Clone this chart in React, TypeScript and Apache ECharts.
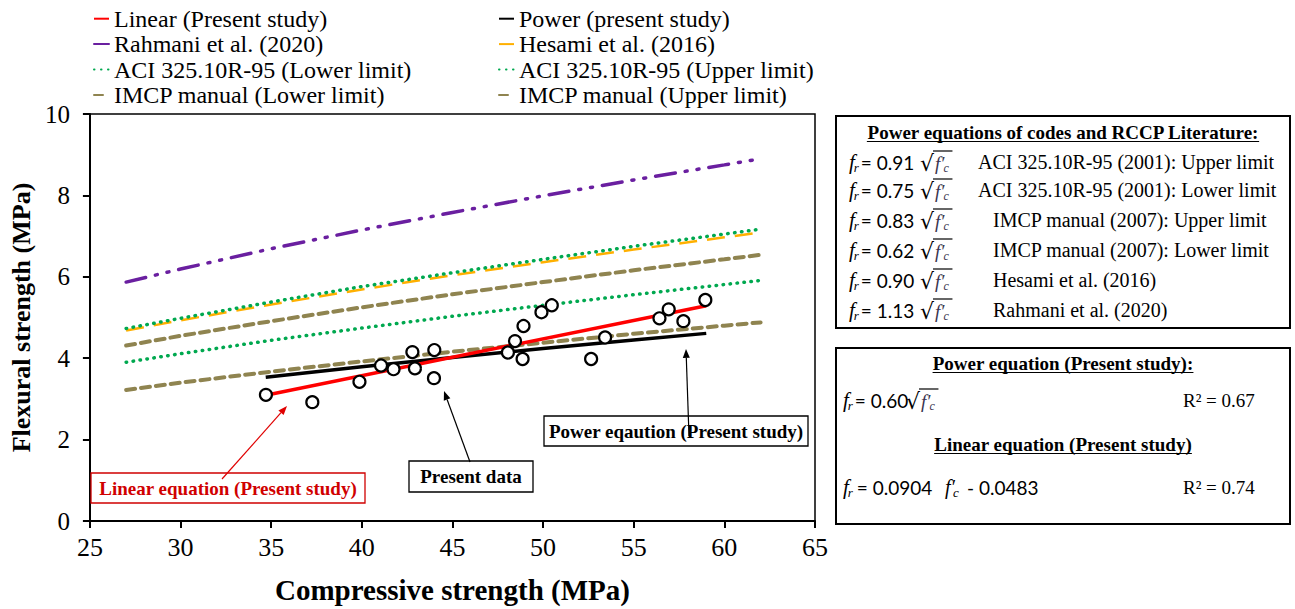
import React, { useEffect, useRef } from "react";
import * as echarts from "echarts";

// ---- data ----
const xTicks = [25, 30, 35, 40, 45, 50, 55, 60, 65];
const yTicks = [0, 2, 4, 6, 8, 10];

// measured points (compressive, flexural)
const dataX = [34.71, 37.27, 39.87, 41.06, 41.75, 42.79, 42.93, 44.0, 43.98, 48.06, 48.45, 48.87, 48.92, 49.91, 50.48, 52.65, 53.42, 56.42, 56.93, 57.74, 58.95];
const dataY = [3.1, 2.92, 3.42, 3.82, 3.73, 4.15, 3.75, 4.2, 3.51, 4.14, 4.42, 3.98, 4.79, 5.13, 5.3, 3.98, 4.51, 4.98, 5.2, 4.91, 5.43];

// code / literature curves
const codeX = [27, 30, 35, 40, 45, 50, 55, 60, 62];
const rahmani = [5.87, 6.19, 6.69, 7.15, 7.58, 7.99, 8.38, 8.75, 8.9];
const hesami = [4.68, 4.93, 5.32, 5.69, 6.04, 6.36, 6.67, 6.97, 7.09];
const aciUpper = [4.73, 4.98, 5.38, 5.76, 6.1, 6.43, 6.75, 7.05, 7.17];
const aciLower = [3.9, 4.11, 4.44, 4.74, 5.03, 5.3, 5.56, 5.81, 5.91];
const imcpUpper = [4.31, 4.55, 4.91, 5.25, 5.57, 5.87, 6.16, 6.43, 6.54];
const imcpLower = [3.22, 3.4, 3.67, 3.92, 4.16, 4.38, 4.6, 4.8, 4.88];

// present study fits
const presentX = [34.7, 40, 45, 50, 55, 59];
const powerPresent = [3.53, 3.79, 4.02, 4.24, 4.45, 4.61];
const linearX = [34.7, 59];
const linearPresent = [3.09, 5.29];

// right-hand equation table
const codeCoefs = ["0.91", "0.75", "0.83", "0.62", "0.90", "1.13"];
const codeNames = [
  "ACI 325.10R-95 (2001): Upper limit",
  "ACI 325.10R-95 (2001): Lower limit",
  "IMCP manual (2007): Upper limit",
  "IMCP manual (2007): Lower limit",
  "Hesami et al. (2016)",
  "Rahmani et al. (2020)",
];

const SERIF = "'Liberation Serif', 'Times New Roman', serif";
const SANS = "Lato, 'Liberation Sans', sans-serif";

const zip = (xs: number[], ys: number[]) => xs.map((x, i) => [x, ys[i]]);

let measureCtx: CanvasRenderingContext2D | null = null;
function tw(text: string, font: string): number {
  if (!measureCtx) measureCtx = document.createElement("canvas").getContext("2d");
  measureCtx!.font = font;
  return measureCtx!.measureText(text).width;
}

function txt(x: number, y: number, text: string, size: number, opts: any = {}) {
  return {
    type: "text",
    x,
    y,
    z: 100,
    style: {
      text,
      fill: opts.fill || "#000",
      fontFamily: opts.family || SERIF,
      fontSize: size,
      fontWeight: opts.weight || "normal",
      fontStyle: opts.style || "normal",
      align: opts.align || "left",
      verticalAlign: "middle",
    },
  };
}

function underlinedTitle(cx: number, y: number, text: string, size: number) {
  const w = tw(text, `bold ${size}px ${SERIF}`);
  return [
    txt(cx, y, text, size, { weight: "bold", align: "center" }),
    {
      type: "line",
      z: 100,
      shape: { x1: cx - w / 2, y1: y + size * 0.5, x2: cx + w / 2, y2: y + size * 0.5 },
      style: { stroke: "#000", lineWidth: 1.2 },
    },
  ];
}

// f_r = coef sqrt(f'c)
function sqrtEquation(x: number, y: number, coef: string, sqrtX: number) {
  const els: any[] = [];
  const fSize = 21;
  els.push(txt(x, y, "f", fSize, { style: "italic" }));
  const wf = tw("f", `italic ${fSize}px ${SERIF}`);
  els.push(txt(x + wf - 1, y + 5, "r", 13, { style: "italic" }));
  els.push(txt(x + wf + 6, y, "= " + coef, 19, { family: SANS }));
  els.push(txt(sqrtX, y + 1, "√", 22, { family: "'DejaVu Sans', sans-serif" }));
  const ws = tw("√", `22px 'DejaVu Sans'`);
  const fx = sqrtX + ws + 1;
  els.push(txt(fx, y + 1, "f′", 19, { style: "italic", fill: "#3a3550" }));
  const wf2 = tw("f′", `italic 19px ${SERIF}`);
  els.push(txt(fx + wf2 - 1, y + 6, "c", 12, { style: "italic", fill: "#3a3550" }));
  els.push({
    type: "line",
    z: 100,
    shape: { x1: sqrtX + ws - 1, y1: y - 11, x2: fx + wf2 + 8, y2: y - 11 },
    style: { stroke: "#000", lineWidth: 1.2 },
  });
  return els;
}

function arrow(x1: number, y1: number, x2: number, y2: number, color: string) {
  const ang = Math.atan2(y2 - y1, x2 - x1);
  const L = 9, H = 3.5;
  const bx = x2 - L * Math.cos(ang), by = y2 - L * Math.sin(ang);
  const px = -Math.sin(ang) * H, py = Math.cos(ang) * H;
  return [
    { type: "line", z: 100, shape: { x1, y1, x2: bx, y2: by }, style: { stroke: color, lineWidth: 1.2 } },
    {
      type: "polygon",
      z: 100,
      shape: { points: [[x2, y2], [bx + px, by + py], [bx - px, by - py]] },
      style: { fill: color },
    },
  ];
}

function boxedLabel(x: number, y: number, w: number, h: number, text: string, color: string) {
  return [
    { type: "rect", z: 99, shape: { x, y, width: w, height: h }, style: { fill: "#fff", stroke: color, lineWidth: 1.3 } },
    txt(x + w / 2, y + h / 2, text, 19, { weight: "bold", align: "center", fill: color }),
  ];
}

function buildGraphics() {
  const g: any[] = [];
  // box 1
  g.push({ type: "rect", z: 98, shape: { x: 836, y: 116, width: 454, height: 212 }, style: { fill: "#fff", stroke: "#000", lineWidth: 2 } });
  g.push(...underlinedTitle(1063, 132, "Power equations of codes and RCCP Literature:", 19));
  const rowsY = [162, 190, 220, 250, 280, 310];
  const descX = [978, 978, 993, 993, 993, 993];
  codeCoefs.forEach((c, i) => {
    g.push(...sqrtEquation(849, rowsY[i], c, 920));
    g.push(txt(descX[i], rowsY[i], codeNames[i], 20));
  });
  // box 2
  g.push({ type: "rect", z: 98, shape: { x: 836, y: 348, width: 454, height: 176 }, style: { fill: "#fff", stroke: "#000", lineWidth: 2 } });
  g.push(...underlinedTitle(1063, 363, "Power equation (Present study):", 19));
  g.push(...sqrtEquation(843, 400, "0.60", 906));
  g.push(txt(1183, 400, "R² = 0.67", 19));
  g.push(...underlinedTitle(1063, 444, "Linear equation (Present study)", 19));
  // linear equation row
  const ly = 487;
  g.push(txt(843, ly, "f", 21, { style: "italic" }));
  const wf = tw("f", `italic 21px ${SERIF}`);
  g.push(txt(843 + wf - 1, ly + 5, "r", 13, { style: "italic" }));
  g.push(txt(843 + wf + 8, ly, "= 0.0904", 19, { family: SANS }));
  g.push(txt(945, ly, "f′", 20, { style: "italic" }));
  g.push(txt(953, ly + 5, "c", 13, { style: "italic" }));
  g.push(txt(967, ly, "- 0.0483", 19, { family: SANS }));
  g.push(txt(1183, ly, "R² = 0.74", 19));

  // annotations inside plot
  g.push(...arrow(222, 479, 287, 406, "#e00000"));
  g.push(...boxedLabel(91, 473, 274, 30, "Linear equation (Present study)", "#d00000"));
  g.push(...arrow(470, 462, 444, 391, "#000"));
  g.push(...boxedLabel(409, 461, 124, 31, "Present data", "#000"));
  g.push(...boxedLabel(544, 416, 264, 30, "Power eqaution (Present study)", "#000"));
  g.push(...arrow(689, 436, 686, 349, "#000"));
  return g;
}

export default function App() {
  const ref = useRef<HTMLDivElement>(null);
  useEffect(() => {
    if (!ref.current) return;
    const chart = echarts.init(ref.current, undefined, { renderer: "svg" });
    const lineBase = { type: "line", symbol: "none", showSymbol: false, silent: true };
    const legendText = { fontFamily: SERIF, fontSize: 24, color: "#000", lineHeight: 25.4 };
    const legendCommon = {
      orient: "vertical",
      top: 6,
      padding: 0,
      itemGap: 0,
      itemWidth: 15,
      itemHeight: 14,
      textStyle: legendText,
      itemStyle: { opacity: 0 },
    };
    chart.setOption({
      animation: false,
      backgroundColor: "#fff",
      grid: { left: 88, right: 480, top: 114, bottom: 88, show: true, borderColor: "#000", borderWidth: 1.5, backgroundColor: "transparent" },
      legend: [
        {
          ...legendCommon,
          left: 93,
          data: ["Linear (Present study)", "Rahmani et al. (2020)", "ACI 325.10R-95 (Lower limit)", "IMCP manual (Lower limit)"],
        },
        {
          ...legendCommon,
          left: 498,
          data: ["Power (present study)", "Hesami et al. (2016)", "ACI 325.10R-95 (Upper limit)", "IMCP manual (Upper limit)"],
        },
      ],
      xAxis: {
        type: "value",
        min: xTicks[0],
        max: xTicks[xTicks.length - 1],
        interval: 5,
        name: "Compressive strength (MPa)",
        nameLocation: "middle",
        nameGap: 54,
        nameTextStyle: { fontFamily: SERIF, fontWeight: "bold", fontSize: 29, color: "#000" },
        axisLine: { show: true, onZero: false, lineStyle: { color: "#000", width: 2 } },
        axisTick: { show: true, inside: false, length: 7, lineStyle: { color: "#000", width: 2 } },
        axisLabel: { fontFamily: SERIF, fontSize: 26, color: "#000", margin: 13 },
        splitLine: { show: false },
      },
      yAxis: {
        type: "value",
        min: yTicks[0],
        max: yTicks[yTicks.length - 1],
        interval: 2,
        name: "Flexural strength (MPa)",
        nameLocation: "middle",
        nameGap: 42,
        nameRotate: 90,
        nameTextStyle: { fontFamily: SERIF, fontWeight: "bold", fontSize: 26, color: "#000" },
        axisLine: { show: true, onZero: false, lineStyle: { color: "#000", width: 2 } },
        axisTick: { show: true, inside: false, length: 7, lineStyle: { color: "#000", width: 2 } },
        axisLabel: { fontFamily: SERIF, fontSize: 25, color: "#000", margin: 20 },
        splitLine: { show: false },
      },
      series: [
        { ...lineBase, name: "Rahmani et al. (2020)", data: zip(codeX, rahmani), lineStyle: { color: "#6a1fa0", width: 3.5, type: [20, 10, 2, 10, 2, 10], cap: "round" }, itemStyle: { color: "#6a1fa0" } },
        { ...lineBase, name: "Hesami et al. (2016)", data: zip(codeX, hesami), lineStyle: { color: "#ffb000", width: 2.5, type: [18, 10] }, itemStyle: { color: "#ffb000" } },
        { ...lineBase, name: "ACI 325.10R-95 (Upper limit)", data: zip(codeX, aciUpper), lineStyle: { color: "#00a84f", width: 3.5, type: [0.5, 6.5], cap: "round" }, itemStyle: { color: "#00a84f" } },
        { ...lineBase, name: "ACI 325.10R-95 (Lower limit)", data: zip(codeX, aciLower), lineStyle: { color: "#00a84f", width: 3.5, type: [0.5, 6.5], cap: "round" }, itemStyle: { color: "#00a84f" } },
        { ...lineBase, name: "IMCP manual (Upper limit)", data: zip(codeX, imcpUpper), lineStyle: { color: "#8f8450", width: 4, type: [9, 6], cap: "round" }, itemStyle: { color: "#8f8450" } },
        { ...lineBase, name: "IMCP manual (Lower limit)", data: zip(codeX, imcpLower), lineStyle: { color: "#8f8450", width: 4, type: [9, 6], cap: "round" }, itemStyle: { color: "#8f8450" } },
        { ...lineBase, name: "Power (present study)", data: zip(presentX, powerPresent), lineStyle: { color: "#000", width: 3.5 }, itemStyle: { color: "#000" } },
        { ...lineBase, name: "Linear (Present study)", data: zip(linearX, linearPresent), lineStyle: { color: "#ff0000", width: 3.5 }, itemStyle: { color: "#ff0000" } },
        {
          type: "scatter",
          name: "Present data",
          data: zip(dataX, dataY),
          symbol: "circle",
          symbolSize: 12,
          itemStyle: { color: "#fff", borderColor: "#000", borderWidth: 2.2, opacity: 1 },
          z: 5,
        },
      ],
      graphic: buildGraphics(),
    });
    return () => chart.dispose();
  }, []);
  return <div ref={ref} style={{ position: "fixed", left: 0, top: 0, width: 1295, height: 609 }} />;
}
